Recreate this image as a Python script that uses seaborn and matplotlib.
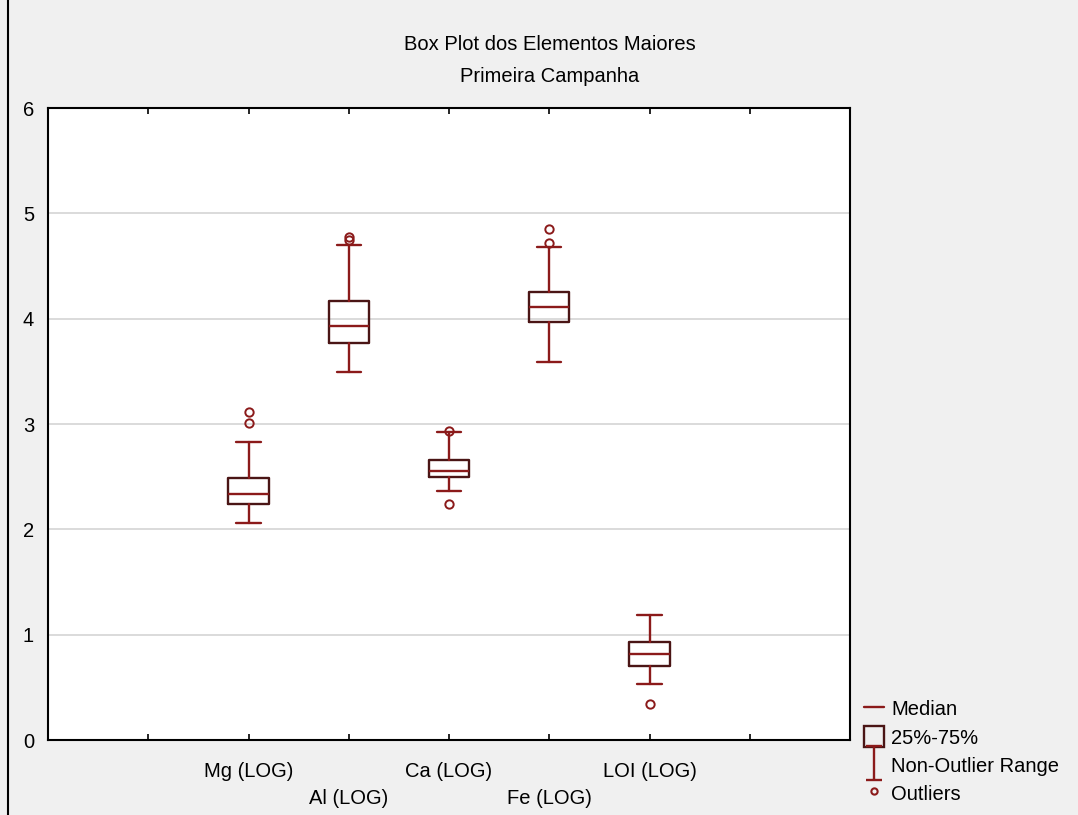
import matplotlib
matplotlib.use("Agg")
import matplotlib.pyplot as plt
import seaborn as sns
from matplotlib.lines import Line2D
from matplotlib.patches import Patch
from matplotlib.path import Path

categories = ["Mg (LOG)", "Al (LOG)", "Ca (LOG)", "Fe (LOG)", "LOI (LOG)"]
whisker_low = [2.06, 3.49, 2.36, 3.59, 0.53]
q1 = [2.24, 3.77, 2.50, 3.97, 0.70]
median = [2.34, 3.93, 2.55, 4.11, 0.82]
q3 = [2.49, 4.17, 2.66, 4.25, 0.93]
whisker_high = [2.83, 4.70, 2.92, 4.68, 1.19]
outliers = [[3.01, 3.11], [4.75, 4.78], [2.24, 2.93], [4.72, 4.85], [0.34]]
y_ticks = [0, 1, 2, 3, 4, 5, 6]
title_lines = ["Box Plot dos Elementos Maiores", "Primeira Campanha"]
legend_labels = ["Median", "25%-75%", "Non-Outlier Range", "Outliers"]

sns.set_style("white")
plt.rcParams["font.family"] = ["Liberation Sans", "DejaVu Sans"]
plt.rcParams["text.color"] = "black"
plt.rcParams["xtick.color"] = "black"
plt.rcParams["ytick.color"] = "black"
plt.rcParams["xtick.labelcolor"] = "black"
plt.rcParams["ytick.labelcolor"] = "black"

RED = "#8b1a1a"
DARK = "#4a1515"
BG = "#f0f0f0"
FS = 14.5

fig = plt.figure(figsize=(10.78, 8.15), dpi=100, facecolor=BG)
ax = fig.add_axes([48 / 1078, 1 - 740 / 815, (850 - 48) / 1078, (740 - 108) / 815])
ax.set_facecolor("white")

stats = []
for i, c in enumerate(categories):
    stats.append(dict(label=c, whislo=whisker_low[i], q1=q1[i], med=median[i],
                      q3=q3[i], whishi=whisker_high[i], fliers=outliers[i]))

positions = [2, 3, 4, 5, 6]
ax.bxp(stats, positions=positions, widths=0.4, capwidths=0.24, showfliers=True,
       patch_artist=False,
       boxprops=dict(color=DARK, linewidth=1.7),
       medianprops=dict(color=RED, linewidth=1.7),
       whiskerprops=dict(color=RED, linewidth=1.7),
       capprops=dict(color=RED, linewidth=1.7),
       flierprops=dict(marker="o", markersize=6, markerfacecolor="none",
                       markeredgecolor=RED, markeredgewidth=1.4))

ax.set_xlim(0, 8)
ax.set_ylim(0, 6)
ax.set_yticks(y_ticks)
ax.set_yticklabels([str(t) for t in y_ticks], fontsize=FS)
for t in y_ticks[1:-1]:
    ax.axhline(t, color="#d8d8d8", linewidth=1.3, zorder=0)

xt = [1, 2, 3, 4, 5, 6, 7]
xl = [""] + [c if i % 2 == 0 else "\n" + c for i, c in enumerate(categories)] + [""]
ax.set_xticks(xt)
ax.set_xticklabels(xl, fontsize=FS, linespacing=1.5)
ax.tick_params(axis="x", direction="in", top=True, bottom=True, length=4, width=1.2, pad=16)
ax.tick_params(axis="y", direction="in", left=True, length=0, pad=10)
for s in ax.spines.values():
    s.set_color("black")
    s.set_linewidth(1.5)

fig.text(550 / 1078, 1 - 44 / 815, title_lines[0], ha="center", va="center", fontsize=FS)
fig.text(550 / 1078, 1 - 77 / 815, title_lines[1], ha="center", va="center", fontsize=FS)

ibeam = Path([(-0.5, 1), (0.5, 1), (0, 1), (0, -1), (-0.5, -1), (0.5, -1)],
             [Path.MOVETO, Path.LINETO, Path.MOVETO, Path.LINETO, Path.MOVETO, Path.LINETO])
handles = [
    Line2D([], [], color=RED, linewidth=1.7),
    Patch(facecolor="none", edgecolor=DARK, linewidth=1.7),
    Line2D([], [], linestyle="none", marker=ibeam, markersize=24, markerfacecolor="none",
           markeredgecolor=RED, markeredgewidth=1.7),
    Line2D([], [], linestyle="none", marker="o", markersize=4.5, markerfacecolor="none",
           markeredgecolor=RED, markeredgewidth=1.5),
]
fig.legend(handles, legend_labels, loc="lower left", bbox_to_anchor=(853 / 1078, 0.0),
           frameon=False, fontsize=FS, handlelength=1.0, handleheight=1.2,
           handletextpad=0.35, labelspacing=0.35, borderaxespad=0.15)

fig.add_artist(Line2D([8 / 1078, 8 / 1078], [0, 1], color="black", linewidth=1.5,
                      transform=fig.transFigure))

fig.savefig("out.png", dpi=100, facecolor=BG)
